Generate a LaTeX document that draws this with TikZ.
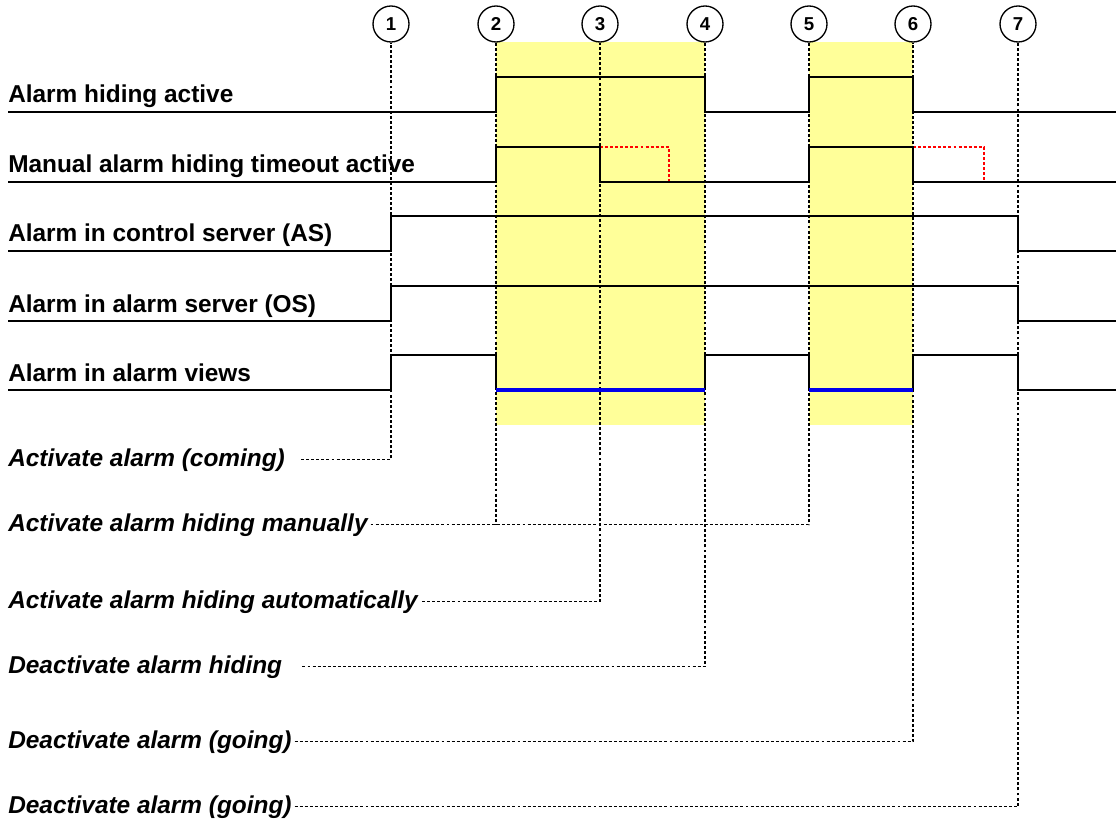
\documentclass[tikz,border=0pt]{standalone}
\usepackage{fontspec}
\setmainfont{Liberation Sans}
\definecolor{hideyellow}{RGB}{255,255,153}
\definecolor{hideblue}{RGB}{0,0,235}
\begin{document}
\begin{tikzpicture}[x=0.75pt,y=-0.75pt,
  sig/.style={line width=2.1pt, line join=miter},
  guide/.style={line width=0.95pt, dash pattern=on 2.2pt off 1.6pt},
  timeout/.style={guide, red},
  hidden/.style={line width=2.5pt, hideblue},
  num/.style={circle, draw, line width=1pt, minimum size=27pt, inner sep=0pt,
    font=\fontsize{14}{16}\selectfont\bfseries},
  siglab/.style={anchor=base west, inner sep=0pt, font=\fontsize{18.3}{22}\selectfont\bfseries},
  evlab/.style={anchor=base west, inner sep=0pt, font=\fontsize{18.3}{22}\selectfont\bfseries\itshape},
  band/.style={fill=hideyellow, draw=none}]
\useasboundingbox (0,0) rectangle (1116,823);

% hiding periods
\fill[band] (496,42) rectangle (705,425);
\fill[band] (809,42) rectangle (913,425);

% event markers
\node[num] (e1) at (391,24) {1};
\node[num] (e2) at (496,24) {2};
\node[num] (e3) at (600,24) {3};
\node[num] (e4) at (705,24) {4};
\node[num] (e5) at (809,24) {5};
\node[num] (e6) at (913,24) {6};
\node[num] (e7) at (1018,24) {7};

% signal labels
\node[siglab] (s1) at (8,103) {Alarm hiding active};
\node[siglab] (s2) at (8,173) {Manual alarm hiding timeout active};
\node[siglab] (s3) at (8,242) {Alarm in control server (AS)};
\node[siglab] (s4) at (8,312) {Alarm in alarm server (OS)};
\node[siglab] (s5) at (8,381) {Alarm in alarm views};

% event labels
\node[evlab] (l1) at (8,466) {Activate alarm (coming)};
\node[evlab] (l2) at (8,531) {Activate alarm hiding manually};
\node[evlab] (l3) at (8,608) {Activate alarm hiding automatically};
\node[evlab] (l4) at (8,673) {Deactivate alarm hiding};
\node[evlab] (l5) at (8,748) {Deactivate alarm (going)};
\node[evlab] (l6) at (8,813) {Deactivate alarm (going)};

% guides
\draw[guide] ([xshift=12]l1.east) -| (e1.south);
\draw[guide] ([xshift=2]l2.east) -| (e5.south);
\draw[guide] (e2.south) -- (e2.south |- l2.east);
\draw[guide] ([xshift=3]l3.east) -| (e3.south);
\draw[guide] ([xshift=15]l4.east) -| (e4.south);
\draw[guide] ([xshift=2]l5.east) -| (e6.south);
\draw[guide] ([xshift=2]l6.east) -| (e7.south);

% timeout remainders
\draw[timeout] (600,147) -- (669,147) -- (669,182);
\draw[timeout] (913,147) -- (984,147) -- (984,182);

% signals
\draw[sig] (8,112) -- (496,112) -- (496,77) -- (705,77) -- (705,112) -- (809,112) -- (809,77) -- (913,77) -- (913,112) -- (1116,112);
\draw[sig] (8,182) -- (496,182) -- (496,147) -- (600,147) -- (600,182) -- (809,182) -- (809,147) -- (913,147) -- (913,182) -- (1116,182);
\draw[sig] (8,251) -- (391,251) -- (391,216) -- (1018,216) -- (1018,251) -- (1116,251);
\draw[sig] (8,321) -- (391,321) -- (391,286) -- (1018,286) -- (1018,321) -- (1116,321);
\draw[sig] (8,390) -- (391,390) -- (391,355) -- (496,355) -- (496,390);
\draw[sig] (705,390) -- (705,355) -- (809,355) -- (809,390);
\draw[sig] (913,390) -- (913,355) -- (1018,355) -- (1018,390) -- (1116,390);
\draw[hidden] (496,390) -- (705,390);
\draw[hidden] (809,390) -- (913,390);
\end{tikzpicture}
\end{document}
